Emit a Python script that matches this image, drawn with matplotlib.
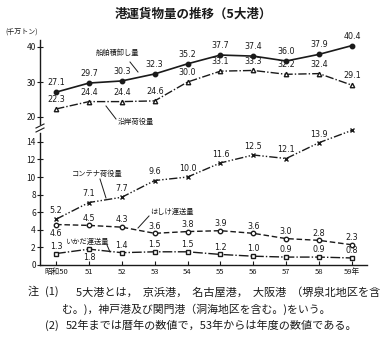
import numpy as np
import matplotlib.pyplot as plt

plt.rcParams['font.family'] = ['Noto Sans CJK JP', 'DejaVu Sans']

years = [50, 51, 52, 53, 54, 55, 56, 57, 58, 59]
xlabels = ["昭和50", "51", "52", "53", "54", "55", "56", "57", "58", "59年"]

ship = [27.1, 29.7, 30.3, 32.3, 35.2, 37.7, 37.4, 36.0, 37.9, 40.4]
coast = [22.3, 24.4, 24.4, 24.6, 30.0, 33.1, 33.3, 32.2, 32.4, 29.1]
container = [5.2, 7.1, 7.7, 9.6, 10.0, 11.6, 12.5, 12.1, 13.9, 15.3]
barge = [4.6, 4.5, 4.3, 3.6, 3.8, 3.9, 3.6, 3.0, 2.8, 2.3]
raft = [1.3, 1.8, 1.4, 1.5, 1.5, 1.2, 1.0, 0.9, 0.9, 0.8]

ink = "#1a1a1a"
W, H = 391, 345

fig = plt.figure(figsize=(W / 100, H / 100), dpi=100)

# pixel -> figure fraction helpers
def fx(px):
    return px / W

def fy(py):
    return 1 - py / H

left, right = 40, 367
ax_top = fig.add_axes([fx(left), fy(124), fx(right - left), fy(40) - fy(124)])
ax_bot = fig.add_axes([fx(left), fy(265), fx(right - left), fy(133) - fy(265)])

xlim = (49.51, 59.46)
ax_top.set_xlim(*xlim)
ax_bot.set_xlim(*xlim)
ax_top.set_ylim(18, 42)
ax_bot.set_ylim(0, 15)

for ax in (ax_top, ax_bot):
    ax.patch.set_visible(False)
    for s in ("top", "right"):
        ax.spines[s].set_visible(False)
    ax.spines["left"].set_color(ink)
    ax.spines["left"].set_linewidth(1.0)
    ax.tick_params(axis="y", direction="inout", length=4, width=0.8,
                   labelsize=6, colors=ink, pad=1)

ax_top.spines["bottom"].set_visible(False)
ax_top.set_xticks([])
ax_top.set_yticks([20, 30, 40])

ax_bot.spines["bottom"].set_color(ink)
ax_bot.spines["bottom"].set_linewidth(1.0)
ax_bot.set_yticks(range(0, 15, 2))
ax_bot.set_xticks(years)
ax_bot.set_xticklabels(xlabels)
ax_bot.tick_params(axis="x", direction="in", length=3, width=0.8,
                   labelsize=5.5, colors=ink, pad=2)

ms = 3.2
ax_top.plot(years, ship, color=ink, lw=1.2, marker="o", ms=ms,
            mfc=ink, mec=ink, clip_on=False)
ax_top.plot(years, coast, color=ink, lw=1.0, marker="^", ms=ms,
            mfc="white", mec=ink, dashes=(6, 1.5, 1, 1.5), clip_on=False)
ax_bot.plot(years, container, color=ink, lw=1.0, marker="x", ms=ms,
            mec=ink, dashes=(6, 1.5, 1, 1.5, 1, 1.5), clip_on=False)
ax_bot.plot(years, barge, color=ink, lw=1.0, marker="o", ms=ms,
            mfc="white", mec=ink, dashes=(4, 2), clip_on=False)
ax_bot.plot(years, raft, color=ink, lw=1.0, marker="s", ms=ms,
            mfc="white", mec=ink, dashes=(7, 1.5, 1, 1.5), clip_on=False)

# value labels
def label(ax, xs, vals, below=(), up=2.5):
    for i, (x, v) in enumerate(zip(xs, vals)):
        dy = -3 if i in below else up
        ax.annotate(f"{v:.1f}", (x, v), xytext=(0, dy),
                    textcoords="offset points", ha="center",
                    va="bottom" if dy > 0 else "top",
                    fontsize=5.8, color=ink, family="DejaVu Sans")

label(ax_top, years, ship, up=3.5)
label(ax_top, years, coast, up=3.5)
label(ax_bot, years, container, up=3)
label(ax_bot, years, barge, below=(0,), up=2)
label(ax_bot, years, raft, below=(1,), up=2)

# series names with leader lines (pixel positions)
def name(text, tx, ty, x0, y0, x1, y1):
    fig.text(fx(tx), fy(ty), text, fontsize=5.2, color=ink,
             ha="left", va="center")
    fig.add_artist(plt.Line2D([fx(x0), fx(x1)], [fy(y0), fy(y1)],
                              color=ink, lw=0.7))

name("船舶積卸し量", 96, 53, 130, 62, 138, 72)
name("沿岸荷役量", 118, 122, 106, 106, 116, 119)
name("コンテナ荷役量", 72, 174, 100, 179, 106, 198)
name("はしけ運送量", 150, 212, 149, 216, 138, 228)
name("いかだ運送量", 65, 242, 107, 245, 110, 252)

# axis break marks
for yb in (126, 130):
    fig.add_artist(plt.Line2D([fx(36), fx(44)], [fy(yb + 2), fy(yb - 2)],
                              color=ink, lw=0.8))

fig.text(fx(193), fy(14), "港運貨物量の推移（5大港）", fontsize=9,
         fontweight="bold", ha="center", va="center", color=ink)
fig.text(fx(5), fy(33), "(千万トン)", fontsize=5, ha="left",
         va="center", color=ink)

# notes
fig.text(fx(28), fy(292), "注", fontsize=8, ha="left", va="center", color=ink)
fig.text(fx(45), fy(292), "(1)", fontsize=8, ha="left", va="center", color=ink)
fig.text(fx(76), fy(292), "5大港とは，  京浜港，  名古屋港，  大阪港  （堺泉北地区を含",
         fontsize=8, ha="left", va="center", color=ink)
fig.text(fx(62), fy(309), "む。)，神戸港及び関門港（洞海地区を含む。)をいう。",
         fontsize=7.8, ha="left", va="center", color=ink)
fig.text(fx(45), fy(326), "(2)", fontsize=8, ha="left", va="center", color=ink)
fig.text(fx(66), fy(326), "52年までは暦年の数値で，53年からは年度の数値である。",
         fontsize=8, ha="left", va="center", color=ink)

fig.savefig("out.png", dpi=100)
